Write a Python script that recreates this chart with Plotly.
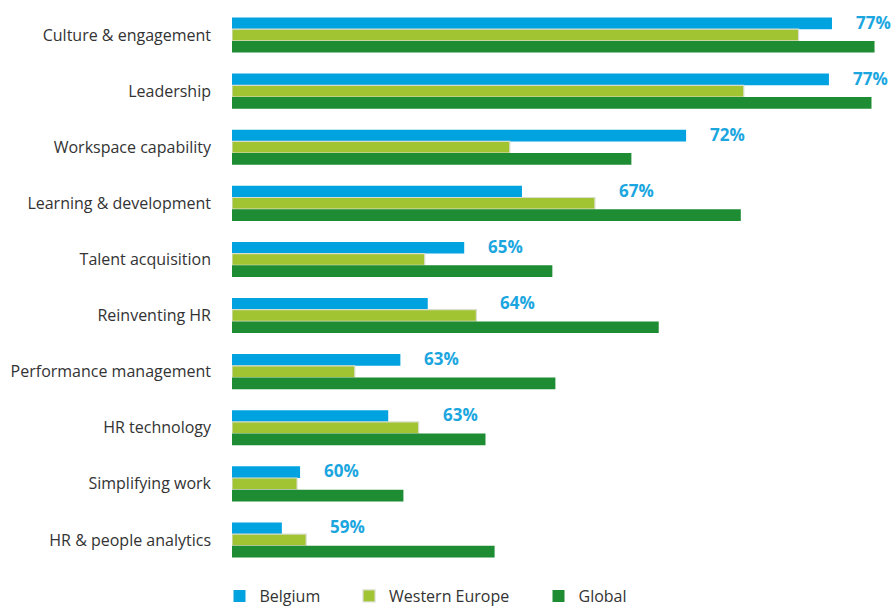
import plotly.graph_objects as go

categories = ["Culture & engagement", "Leadership", "Workspace capability",
              "Learning & development", "Talent acquisition", "Reinventing HR",
              "Performance management", "HR technology", "Simplifying work",
              "HR & people analytics"]
belgium = [77.1, 77.0, 72.3, 66.9, 65.0, 63.8, 62.9, 62.5, 59.6, 59.0]
western_europe = [76.0, 74.2, 66.5, 69.3, 63.7, 65.4, 61.4, 63.5, 59.5, 59.8]
global_ = [78.5, 78.4, 70.5, 74.1, 67.9, 71.4, 68.0, 65.7, 63.0, 66.0]
belgium_labels = ["77%", "77%", "72%", "67%", "65%", "64%", "63%", "63%", "60%", "59%"]

AXIS_MIN = 57.36
AXIS_MAX = 78.68
FONT = "Open Sans"

fig = go.Figure()
fig.add_trace(go.Bar(y=categories, x=[v - AXIS_MIN for v in belgium], base=AXIS_MIN,
                     orientation="h", name="Belgium", legend="legend",
                     marker=dict(color="#00A3E0", line=dict(width=0))))
fig.add_trace(go.Bar(y=categories, x=[v - AXIS_MIN for v in western_europe], base=AXIS_MIN,
                     orientation="h", name="Western Europe", legend="legend2",
                     marker=dict(color="#A0C432", line=dict(color="#DADDCB", width=1.2))))
fig.add_trace(go.Bar(y=categories, x=[v - AXIS_MIN for v in global_], base=AXIS_MIN,
                     orientation="h", name="Global", legend="legend3",
                     marker=dict(color="#1E8C32", line=dict(width=0))))

for cat, b, w, lab in zip(categories, belgium, western_europe, belgium_labels):
    fig.add_annotation(x=max(b, w) + 0.72, y=cat, text=f"<b>{lab}</b>",
                       xanchor="left", yanchor="middle", showarrow=False,
                       yshift=13, font=dict(family=FONT, size=17, color="#1BA6E0"))

leg_common = dict(orientation="h", xanchor="left", y=-0.05, yanchor="middle",
                  font=dict(family=FONT, size=16, color="#333333"), bgcolor="rgba(0,0,0,0)")

fig.update_layout(
    width=892, height=607,
    margin=dict(l=232, r=12, t=7, b=39, autoexpand=False),
    paper_bgcolor="white", plot_bgcolor="white",
    barmode="group", bargap=0.375, bargroupgap=0,
    font=dict(family=FONT, size=16, color="#333333"),
    xaxis=dict(range=[AXIS_MIN, AXIS_MAX], visible=False, showgrid=False, zeroline=False),
    yaxis=dict(autorange="reversed", showgrid=False, zeroline=False, showline=False,
               ticks="", ticklabelstandoff=20, automargin=False,
               tickfont=dict(family=FONT, size=16, color="#333333")),
    legend=dict(x=-0.0193, **leg_common),
    legend2=dict(x=0.1806, **leg_common),
    legend3=dict(x=0.4730, **leg_common),
    showlegend=True,
)

fig.write_html("out.html", config={"displayModeBar": False},
               post_script="document.body.style.margin='0';document.body.style.overflow='hidden';")
